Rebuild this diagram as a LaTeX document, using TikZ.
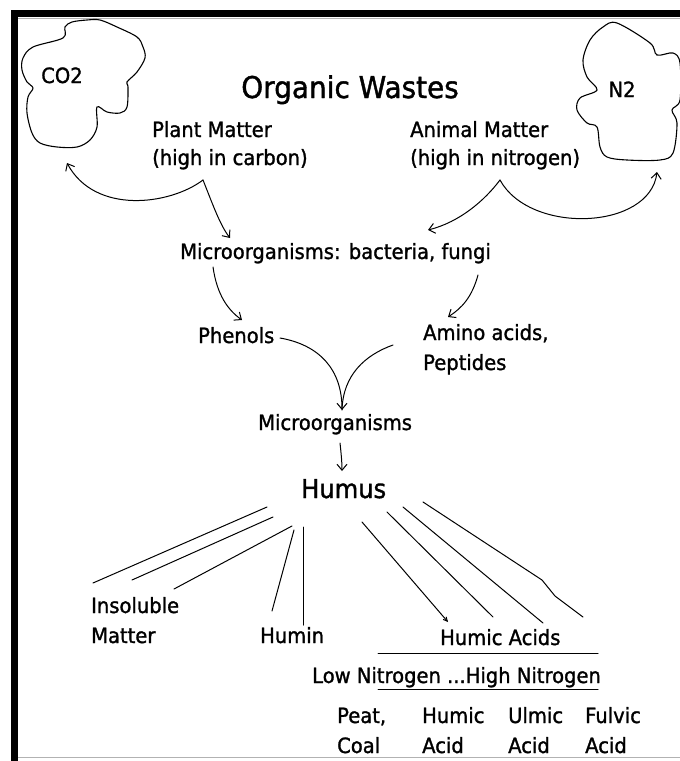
\documentclass[tikz,border=0pt]{standalone}
\usepackage{fontspec}
\setmainfont{DejaVu Sans}[FakeStretch=0.93, FakeBold=1.3]
\usetikzlibrary{arrows.meta}
\tikzset{
  lbl/.style={font=\fontsize{21}{24}\selectfont, inner sep=0pt, anchor=base west},
  ttl/.style={font=\fontsize{30}{33}\selectfont, inner sep=0pt, anchor=base},
  big/.style={font=\fontsize{26}{30}\selectfont, inner sep=0pt, anchor=base west},
  conn/.style={line width=1pt, line cap=round},
  arr/.style={conn, -{Straight Barb[length=6pt,width=10pt]}},
  cloud/.style={line width=1.1pt},
}
\begin{document}
\begin{tikzpicture}[x=1pt,y=-1pt]
\useasboundingbox (0,0) rectangle (680,761);
% frame
\fill[black] (11,10) rectangle (680,17);
\fill[black] (11,10) rectangle (18,761);
\draw[black!30, line width=1pt] (18,18.5) -- (680,18.5);
\draw[black!30, line width=1pt] (18,757.5) -- (680,757.5);
% clouds
\draw[cloud] plot[smooth cycle, tension=0.55] coordinates {
 (87,20) (72,22) (65,27) (63,38) (33,47) (23,58) (22,70) (27,82) (33,88)
 (28,97) (27,113) (32,133) (40,143) (57,147) (77,147) (90,140) (97,127)
 (97,107) (107,112) (120,113) (127,107) (128,87) (127,82) (137,72) (145,58)
 (143,47) (137,37) (117,27) (100,20)};
\draw[cloud] plot[smooth cycle, tension=0.55] coordinates {
 (617,23) (650,43) (657,55) (673,53) (680,63) (680,100) (672,110) (677,123)
 (673,153) (660,160) (627,160) (607,157) (600,147) (597,127) (587,123)
 (577,110) (580,98) (597,90) (587,77) (583,60) (590,40) (603,27)};
% texts
\node[lbl, anchor=base] (co2) at (62,83) {CO2};
\node[lbl, anchor=base] (n2) at (622,97) {N2};
\node[ttl] (title) at (350,98) {Organic Wastes};
\node[lbl] (plant) at (152,137) {Plant Matter};
\node[lbl] (plantc) at (152,165) {(high in carbon)};
\node[lbl] (animal) at (410,137) {Animal Matter};
\node[lbl] (animaln) at (410,165) {(high in nitrogen)};
\node[lbl] (micro1) at (180,259) {Microorganisms: bacteria, fungi};
\node[lbl] (phen) at (198,343) {Phenols};
\node[lbl] (amino) at (423,340) {Amino acids,};
\node[lbl] (pept) at (423,370) {Peptides};
\node[lbl] (micro2) at (258,430) {Microorganisms};
\node[big] (humus) at (301,498) {Humus};
\node[lbl] (insol) at (91,613) {Insoluble};
\node[lbl] (matter) at (91,643) {Matter};
\node[lbl] (humin) at (260,643) {Humin};
\node[lbl] (hacids) at (440,645) {Humic Acids};
\node[lbl] (lowhigh) at (312,683) {Low Nitrogen ...High Nitrogen};
\node[lbl] (peat) at (337,723) {Peat,};
\node[lbl] (coal) at (337,753) {Coal};
\node[lbl] (humic) at (422,723) {Humic};
\node[lbl] (acid1) at (422,753) {Acid};
\node[lbl] (ulmic) at (508,723) {Ulmic};
\node[lbl] (acid2) at (508,753) {Acid};
\node[lbl] (fulvic) at (585,723) {Fulvic};
\node[lbl] (acid3) at (585,753) {Acid};
% connector points
\coordinate (pm) at (203,180);
\coordinate (co2in) at (67,163);
\coordinate (mb1) at (230,238);
\coordinate (am) at (500,180);
\coordinate (mb2) at (428,230);
\coordinate (n2in) at (657,172);
\coordinate (m1a) at (213,267);
\coordinate (phin) at (242,320);
\coordinate (m1b) at (478,275);
\coordinate (aain) at (448,317);
\coordinate (pho) at (280,338);
\coordinate (aao) at (393,345);
\coordinate (m2in) at (342,410);
\coordinate (m2o) at (340,443);
\coordinate (hin) at (342,471);
% upper connectors
\draw[arr] (pm) .. controls (170,205) and (95,215) .. (co2in);
\draw[arr] (pm) .. controls (213,205) and (220,225) .. (mb1);
\draw[arr] (am) .. controls (485,200) and (460,222) .. (mb2);
\draw[arr] (am) .. controls (530,235) and (650,230) .. (n2in);
\draw[arr] (m1a) .. controls (217,295) and (228,310) .. (phin);
\draw[arr] (m1b) .. controls (472,297) and (462,308) .. (aain);
\draw[arr] (pho) .. controls (320,345) and (342,370) .. (m2in);
\draw[conn] (aao) .. controls (365,355) and (343,375) .. (m2in);
\draw[arr] (m2o) .. controls (341,452) and (342,462) .. (hin);
% humus branches
\coordinate (h1) at (267,507); \coordinate (i1) at (93,583);
\coordinate (h2) at (273,517); \coordinate (i2) at (132,580);
\coordinate (h3) at (292,526); \coordinate (i3) at (174,589);
\coordinate (h4) at (294,530); \coordinate (u1) at (272,611);
\coordinate (h5) at (303,527); \coordinate (u2) at (303,625);
\coordinate (h6) at (362,522); \coordinate (a1) at (448,622);
\coordinate (h7) at (387,512); \coordinate (a2) at (493,617);
\coordinate (h8) at (403,507); \coordinate (a3) at (543,623);
\coordinate (h9) at (423,502); \coordinate (k1) at (542,580); \coordinate (k2) at (555,596); \coordinate (a4) at (583,617);
\draw[conn] (h1) -- (i1);
\draw[conn] (h2) -- (i2);
\draw[conn] (h3) -- (i3);
\draw[conn] (h4) -- (u1);
\draw[conn] (h5) -- (u2);
\draw[conn, -{Straight Barb[length=4pt,width=4pt]}] (h6) -- (a1);
\draw[conn] (h7) -- (a2);
\draw[conn] (h8) -- (a3);
\draw[conn] (h9) -- (k1) -- (k2) -- (a4);
% rules
\coordinate (r1a) at (378,653); \coordinate (r1b) at (598,653);
\coordinate (r2a) at (378,689); \coordinate (r2b) at (598,689);
\draw[conn] (r1a) -- (r1b);
\draw[conn] (r2a) -- (r2b);
\end{tikzpicture}
\end{document}
